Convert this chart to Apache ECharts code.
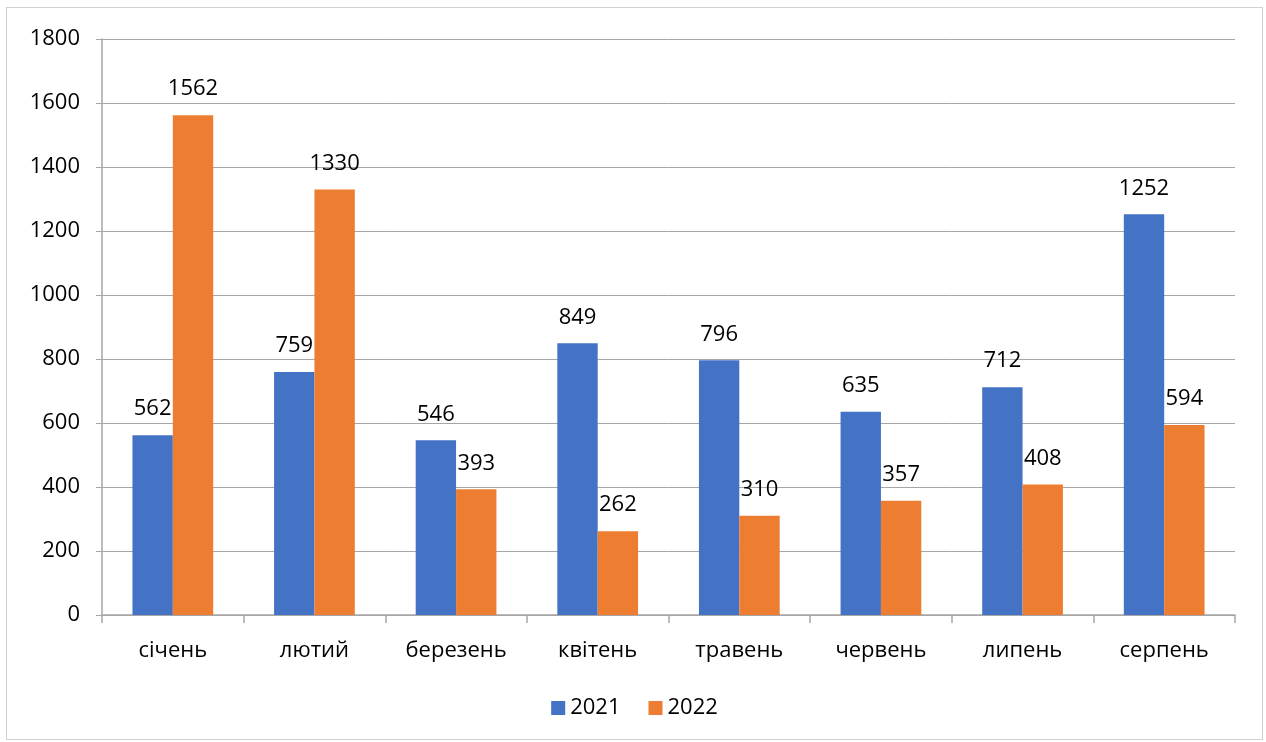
<!DOCTYPE html>
<html>
<head>
<meta charset="utf-8">
<script src="https://cdn.jsdelivr.net/npm/echarts@6/dist/echarts.min.js"></script>
<style>
  html, body { margin: 0; padding: 0; background: #fff; }
  #chart { position: absolute; left: 6px; top: 7px; width: 1257px; height: 733px;
           border: 1px solid #d0d0d0; box-sizing: border-box; }
</style>
</head>
<body>
<div id="chart"></div>
<script>
const months = ['січень', 'лютий', 'березень', 'квітень', 'травень', 'червень', 'липень', 'серпень'];
const values2021 = [562, 759, 546, 849, 796, 635, 712, 1252];
const values2022 = [1562, 1330, 393, 262, 310, 357, 408, 594];

const font = '"Open Sans", "Noto Sans", sans-serif';
const chart = echarts.init(document.getElementById('chart'));

const labelStyle = { show: true, position: 'top', distance: 15, color: '#000', fontSize: 22, fontFamily: font };

chart.setOption({
    animation: false,
    textStyle: { fontFamily: font },
    grid: { left: 95, right: 27, top: 31, bottom: 124, containLabel: false },
    legend: {
        bottom: 15,
        itemWidth: 14, itemHeight: 14, itemGap: 28,
        icon: 'rect',
        textStyle: { fontSize: 22, color: '#000', fontFamily: font },
        data: ['2021', '2022']
    },
    xAxis: {
        type: 'category',
        data: months,
        axisLine: { lineStyle: { color: '#a6a6a6', width: 1.5 } },
        axisTick: { show: true, length: 8, lineStyle: { color: '#a6a6a6', width: 1.5 } },
        axisLabel: { color: '#000', fontSize: 22, margin: 25, fontFamily: font }
    },
    yAxis: {
        type: 'value',
        min: 0, max: 1800, interval: 200,
        axisLine: { show: true, lineStyle: { color: '#a6a6a6', width: 1.5 } },
        axisTick: { show: true, length: 6, inside: false, lineStyle: { color: '#a6a6a6' } },
        splitLine: { lineStyle: { color: '#a6a6a6', width: 1 } },
        axisLabel: { color: '#000', fontSize: 22, margin: 22, fontFamily: font, formatter: v => String(v) }
    },
    series: [
        {
            name: '2021', type: 'bar', data: values2021,
            itemStyle: { color: '#4472C4' },
            barGap: '0%', barCategoryGap: '43%',
            label: labelStyle
        },
        {
            name: '2022', type: 'bar', data: values2022,
            itemStyle: { color: '#ED7D31' },
            label: labelStyle
        }
    ]
});
</script>
</body>
</html>
